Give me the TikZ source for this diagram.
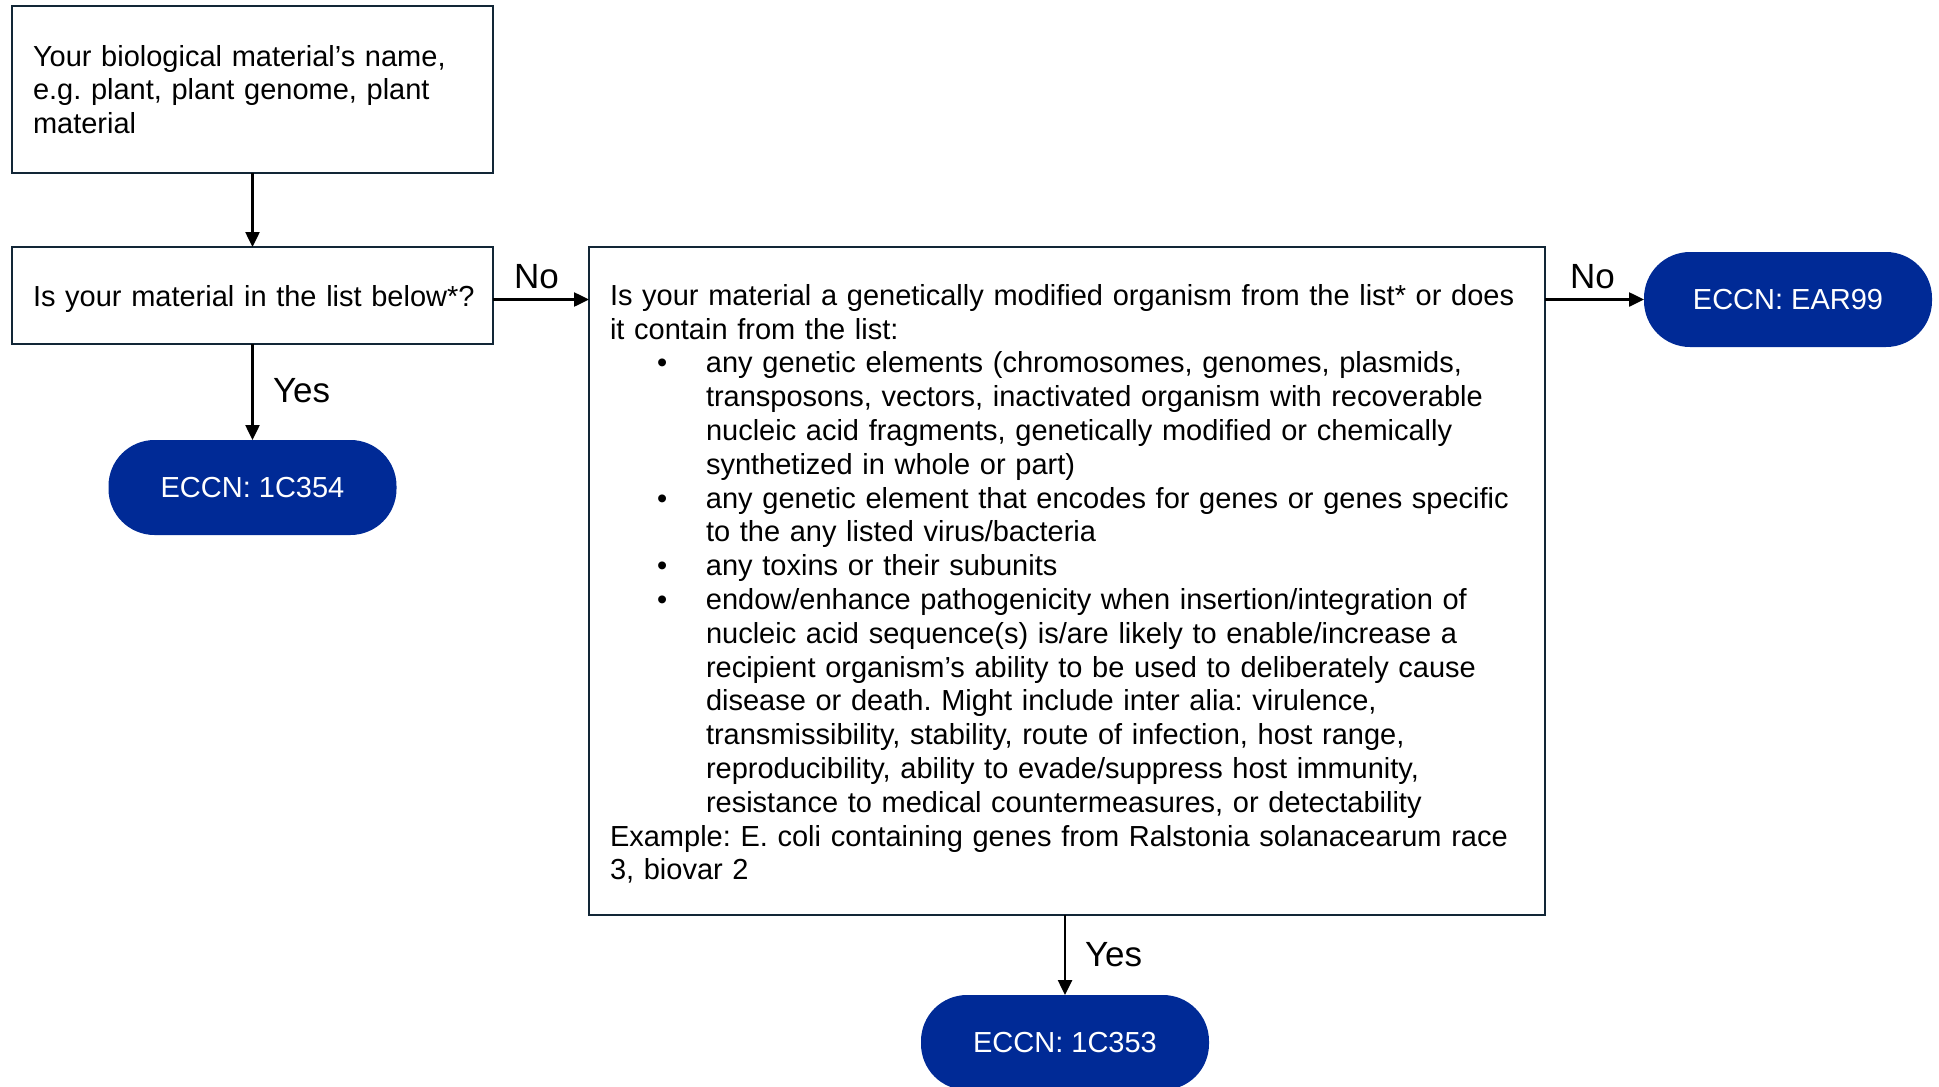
\documentclass[tikz,border=0pt]{standalone}
\usepackage{fontspec}
\setmainfont{Liberation Sans}
\usetikzlibrary{arrows.meta,calc}
\definecolor{boxline}{RGB}{18,38,54}
\definecolor{pillblue}{RGB}{0,42,150}
\newcommand\bulitem{\hspace*{47pt}\makebox[49pt][l]{•}}
\newcommand\contind{\hspace*{96pt}}
\begin{document}
\begin{tikzpicture}[x=1pt,y=-1pt,
  every node/.style={inner sep=0pt, outer sep=0pt},
  txt/.style={font=\fontsize{29}{33.8}\selectfont\frenchspacing},
  qbox/.style={draw=boxline, line width=2.5pt, fill=white, txt, align=left, inner xsep=21pt, anchor=north west},
  pill/.style={fill=pillblue, text=white, rounded corners=46pt, minimum width=288pt, minimum height=95pt, txt},
  lab/.style={font=\fontsize{35}{40}\selectfont, anchor=base west},
  arr/.style={-{Triangle[length=15pt,width=14pt]}, line width=2.5pt, black}]
\useasboundingbox (0,0) rectangle (1939,1087);

\node[qbox, text width=439pt, minimum width=481pt, minimum height=167pt] (b1) at (12,6)
  {Your biological material’s name,\\ e.g. plant, plant genome, plant\\ material};
\node[qbox, text width=439pt, minimum width=481pt, minimum height=97pt, text height=21pt, text depth=0pt] (b2) at (12,247)
  {\mbox{Is your material in the list below*?}};
\node[qbox, text width=914pt, minimum width=956pt, minimum height=668pt] (b3) at (589,247)
  {\rule{0pt}{27pt}\mbox{Is your material a genetically modified organism from the list* or does}\\
   it contain from the list:\\
   \bulitem any genetic elements (chromosomes, genomes, plasmids,\\
   \contind transposons, vectors, inactivated organism with recoverable\\
   \contind nucleic acid fragments, genetically modified or chemically\\
   \contind synthetized in whole or part)\\
   \bulitem\mbox{any genetic element that encodes for genes or genes specific}\\
   \contind to the any listed virus/bacteria\\
   \bulitem any toxins or their subunits\\
   \bulitem endow/enhance pathogenicity when insertion/integration of\\
   \contind nucleic acid sequence(s) is/are likely to enable/increase a\\
   \contind recipient organism’s ability to be used to deliberately cause\\
   \contind disease or death. Might include inter alia: virulence,\\
   \contind transmissibility, stability, route of infection, host range,\\
   \contind reproducibility, ability to evade/suppress host immunity,\\
   \contind resistance to medical countermeasures, or detectability\\
   \mbox{Example: E. coli containing genes from Ralstonia solanacearum race}\\
   3, biovar 2};

\node[pill] (p1) at (252.5,487.5) {ECCN: 1C354};
\node[pill] (ear) at (1788,299.5) {ECCN: EAR99};
\node[pill] (p3) at (1065,1042.5) {ECCN: 1C353};

\node[lab] (no1) at (514,288) {No};
\node[lab] (no2) at (1570,288) {No};
\node[lab] (yes1) at (273,402) {Yes};
\node[lab] (yes2) at (1085,966) {Yes};

\draw[arr] (b1.south) -- (b2.north);
\draw[arr] (b2.east |- ear.west) -- (b3.west |- ear.west);
\draw[arr] (b3.east |- ear.west) -- (ear.west);
\draw[arr] (b2.south) -- (p1.north);
\draw[arr] (b3.south -| p3.north) -- (p3.north);
\end{tikzpicture}
\end{document}
